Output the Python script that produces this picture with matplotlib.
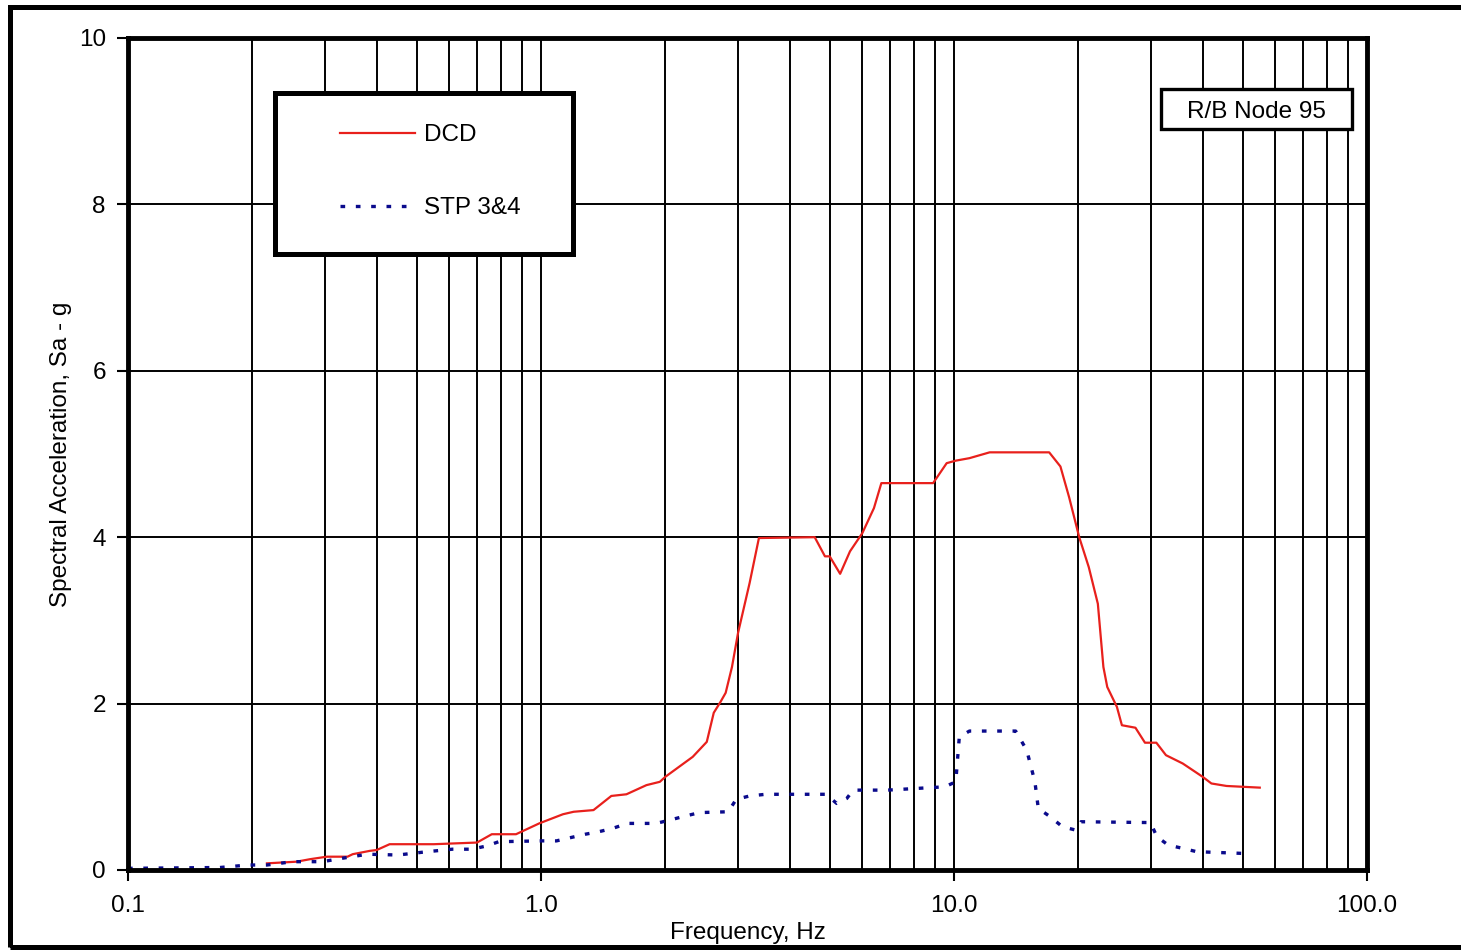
import numpy as np
import matplotlib
matplotlib.use('Agg')
import matplotlib.pyplot as plt
from matplotlib.patches import Rectangle
from matplotlib.ticker import FixedLocator, NullFormatter

plt.rcParams['font.family'] = ['Liberation Sans', 'DejaVu Sans']

# DCD spectrum (frequency Hz, Sa g)
dcd_f = [0.217, 0.256, 0.276, 0.303, 0.34, 0.35, 0.385, 0.40, 0.43, 0.55, 0.70,
         0.76, 0.87, 0.99, 1.13, 1.2, 1.34, 1.48, 1.61, 1.80, 1.94, 2.0, 2.33,
         2.52, 2.62, 2.72, 2.80, 2.90, 3.0, 3.2, 3.37, 4.6, 4.87, 5.0, 5.3, 5.6,
         6.0, 6.4, 6.67, 8.9, 9.6, 10.1, 10.9, 12.2, 17.0, 18.1, 19.0, 20.1,
         21.2, 22.3, 23.0, 23.5, 24.8, 25.5, 27.5, 29.0, 30.9, 32.6, 35.8, 40.0,
         42.0, 45.7, 55.0]
dcd_sa = [0.08, 0.10, 0.13, 0.16, 0.16, 0.19, 0.23, 0.24, 0.31, 0.31, 0.33,
          0.43, 0.43, 0.56, 0.67, 0.70, 0.72, 0.89, 0.91, 1.02, 1.06, 1.12, 1.36,
          1.54, 1.89, 2.02, 2.13, 2.44, 2.85, 3.45, 3.99, 4.0, 3.77, 3.77, 3.56,
          3.83, 4.05, 4.35, 4.65, 4.65, 4.89, 4.92, 4.95, 5.02, 5.02, 4.85, 4.48,
          4.0, 3.64, 3.2, 2.44, 2.2, 1.96, 1.74, 1.71, 1.53, 1.53, 1.38, 1.28,
          1.12, 1.04, 1.01, 0.99]

# STP 3&4 spectrum
stp_f = [0.10, 0.167, 0.195, 0.217, 0.25, 0.296, 0.32, 0.38, 0.45, 0.53, 0.61,
         0.68, 0.74, 0.79, 1.0, 1.09, 1.28, 1.38, 1.49, 1.62, 1.90, 2.05, 2.2,
         2.42, 2.84, 2.97, 3.2, 3.5, 4.9, 5.2, 5.5, 5.7, 6.9, 9.5, 10.1, 10.3,
         10.9, 14.1, 15.0, 15.7, 16.0, 17.1, 18.3, 19.7, 20.3, 29.9, 31.0, 33.0,
         35.8, 38.7, 49.7]
stp_sa = [0.02, 0.03, 0.06, 0.06, 0.10, 0.10, 0.13, 0.19, 0.18, 0.22, 0.25,
          0.25, 0.29, 0.34, 0.35, 0.35, 0.43, 0.46, 0.50, 0.56, 0.56, 0.60, 0.64,
          0.69, 0.70, 0.85, 0.89, 0.91, 0.91, 0.80, 0.86, 0.96, 0.96, 1.0, 1.06,
          1.6, 1.67, 1.67, 1.44, 1.06, 0.74, 0.64, 0.52, 0.48, 0.58, 0.57, 0.40,
          0.30, 0.26, 0.22, 0.20]

x_ticks = [0.1, 1.0, 10.0, 100.0]
x_labels = ['0.1', '1.0', '10.0', '100.0']
y_ticks = [0, 2, 4, 6, 8, 10]

fs = 17.5

fig = plt.figure(figsize=(14.61, 9.51), dpi=100)
ax = fig.add_axes([128/1461, 81/951, 1239/1461, 832/951])

ax.plot(dcd_f, dcd_sa, color='#e8201c', lw=1.6, label='DCD', zorder=3)
ax.plot(stp_f, stp_sa, color='#0a0a8c', lw=2.4, linestyle=(0, (1.4, 3.2)),
        label='STP 3&4', zorder=3)

ax.set_xscale('log')
ax.set_xlim(0.1, 100)
ax.set_ylim(0, 10)

minors = [m * 10.0**d for d in (-1, 0, 1) for m in range(2, 10)]
ax.xaxis.set_major_locator(FixedLocator(x_ticks))
ax.xaxis.set_minor_locator(FixedLocator(minors))
ax.xaxis.set_minor_formatter(NullFormatter())
ax.set_xticks(x_ticks)
ax.set_xticklabels(x_labels)
ax.set_yticks(y_ticks)
ax.tick_params(axis='x', which='major', direction='out', length=8, width=1.5,
               labelsize=fs, pad=10)
ax.tick_params(axis='x', which='minor', length=0)
ax.tick_params(axis='y', direction='out', length=8, width=1.5, labelsize=fs, pad=8)
ax.grid(True, which='both', axis='x', color='black', lw=1.4)
ax.grid(True, which='major', axis='y', color='black', lw=1.4)
for sp in ax.spines.values():
    sp.set_linewidth(3.5)
    sp.set_zorder(5)

ax.set_xlabel('Frequency, Hz', fontsize=fs, labelpad=3.5)
ax.set_ylabel('Spectral Acceleration, Sa - g', fontsize=fs, labelpad=5)

# legend frame and entries
ax.add_patch(Rectangle((0.1186, 0.740), 0.2404, 0.194, transform=ax.transAxes,
                       facecolor='white', edgecolor='black', lw=3.6, zorder=6))
leg = ax.legend(loc='center left', bbox_to_anchor=(0.1711, 0.8395), frameon=False,
                fontsize=fs, handlelength=3.1, handletextpad=0.35,
                labelspacing=2.1, borderpad=0, borderaxespad=0)
leg.set_zorder(7)

# node label box
ax.add_patch(Rectangle((0.834, 0.8906), 0.154, 0.048, transform=ax.transAxes,
                       facecolor='white', edgecolor='black', lw=2.4, zorder=6))
ax.text(0.911, 0.9115, 'R/B Node 95', transform=ax.transAxes, fontsize=fs,
        ha='center', va='center', zorder=7)

# outer frame
fig.add_artist(Rectangle((9.5/1461, 4/951), 1.2, 940.5/951, transform=fig.transFigure,
                         facecolor='none', edgecolor='black', lw=3.6))

fig.savefig('out.png', dpi=100)
